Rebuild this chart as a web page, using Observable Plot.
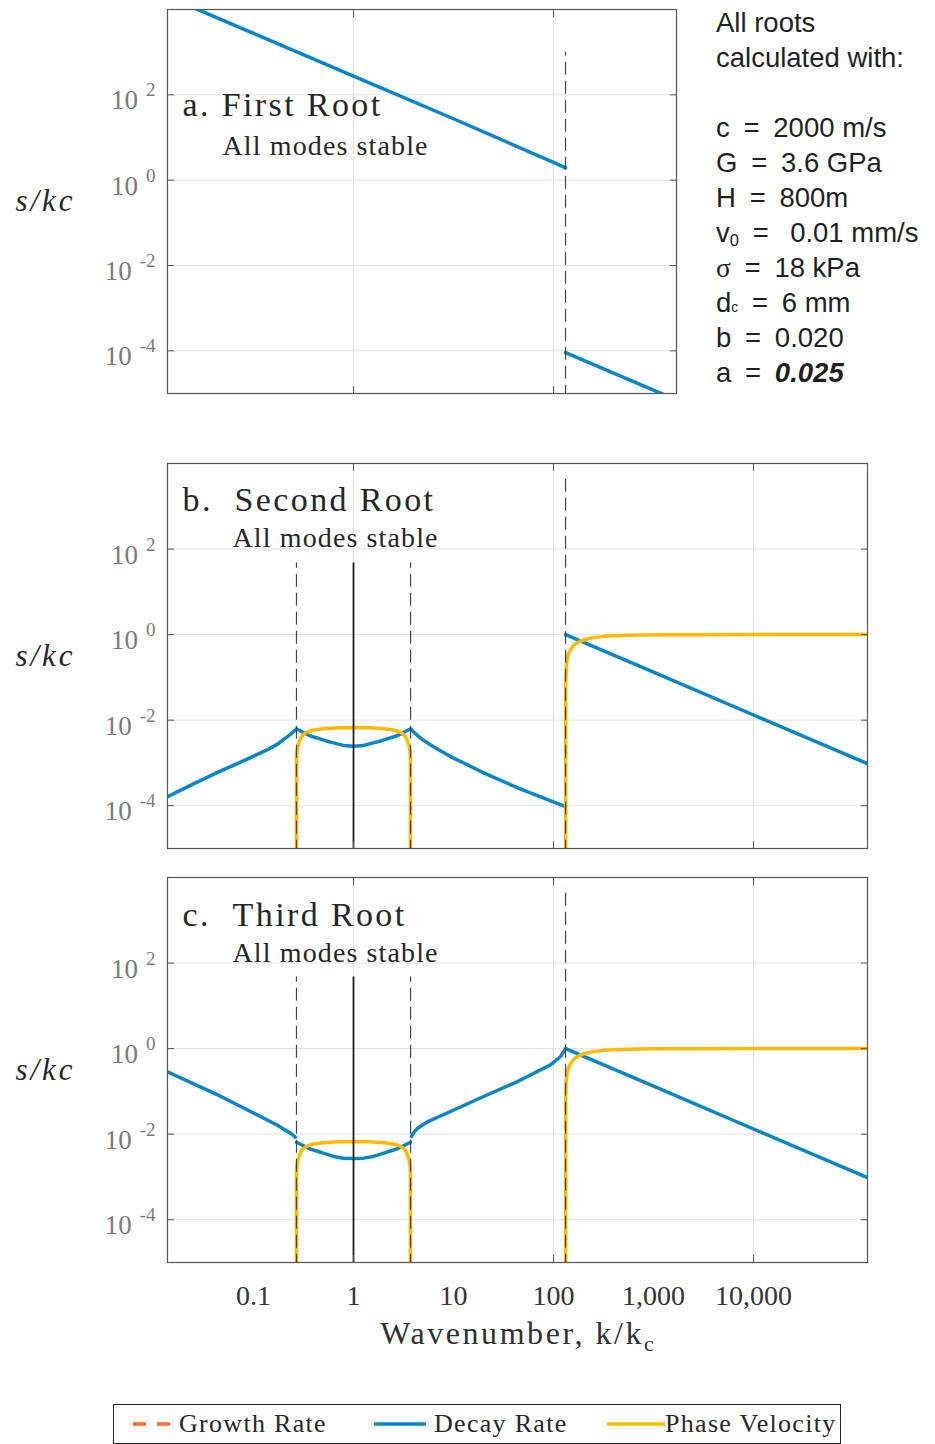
<!DOCTYPE html>
<html>
<head>
<meta charset="utf-8">
<script src="https://cdn.jsdelivr.net/npm/d3@7"></script>
<script src="https://cdn.jsdelivr.net/npm/@observablehq/plot@0.6"></script>
<style>
  html, body { margin: 0; padding: 0; background: #fff; }
  #page { position: relative; width: 935px; height: 1444px; overflow: hidden; font-family: "Liberation Serif", serif; color: #262626; }
  #params { position: absolute; left: 716px; top: 5px; font-family: "Liberation Sans", sans-serif; font-size: 27.5px; line-height: 35px; color: #1f1f1f; white-space: pre; }
  #params div { height: 35px; }
  #params .serif { font-family: "Liberation Serif", serif; }
  #params sub { font-size: 60%; line-height: 0; vertical-align: -0.25em; }
  #params sub.tiny { font-size: 50%; vertical-align: 0; }
  #params .em { font-weight: bold; font-style: italic; }
  #xlabel { position: absolute; left: 167px; width: 700px; top: 1317px; text-align: center; font-size: 32px; line-height: 32px; letter-spacing: 0.08em; color: #303030; }
  #xlabel sub { font-size: 68%; line-height: 0; vertical-align: -0.3em; letter-spacing: 0; }
  #legend { position: absolute; left: 113px; top: 1404px; width: 728px; height: 40px; box-sizing: border-box; border: 1.3px solid #262626; background: #fff; }
  #legend .item { position: absolute; top: 0; height: 38px; display: flex; align-items: center; font-size: 26px; letter-spacing: 0.05em; color: #262626; }
  #legend svg { display: block; margin-right: 8px; }
</style>
</head>
<body>
<div id="page">
  <div id="params"></div>
  <div id="xlabel">Wavenumber, k/k<sub>c</sub></div>
  <div id="legend"></div>
</div>
<script>
// ---------- scales ----------
const xMin = 0.0138;
const yDomain = [1e-5, 1e4];
const yTicks = [1e2, 1, 1e-2, 1e-4];
const xGridTicks = [1, 100, 10000];
const xLabelTicks = [0.1, 1, 10, 100, 1000, 10000];

// ---------- first root: decay rate s/kc against k/kc ----------
const firstDecayK = [0.0138, 0.1, 1, 10, 100, 132];
const firstDecayV = [20000, 2750, 275, 27.5, 2.6, 1.95];
const firstDecayHighK = [132, 1000, 1700];
const firstDecayHighV = [9.1e-5, 1.2e-5, 7.1e-6];

// ---------- second root ----------
const secondDecayK = [0.0138, 0.0251, 0.0437, 0.0794, 0.138, 0.174, 0.2, 0.229, 0.251, 0.269,
  0.316, 0.372, 0.437, 0.525, 0.631, 0.794, 1, 1.26, 1.58, 1.91, 2.29, 2.69, 3.16, 3.72,
  3.98, 4.37, 5.01, 6.31, 9.33, 20, 43.7, 132];
const secondDecayV = [1.62e-4, 3.24e-4, 6.03e-4, 1.12e-3, 2.04e-3, 2.75e-3, 3.55e-3, 4.47e-3, 5.37e-3, 6.31e-3,
  5.13e-3, 4.27e-3, 3.80e-3, 3.31e-3, 2.95e-3, 2.57e-3, 2.45e-3, 2.57e-3, 2.95e-3, 3.31e-3, 3.80e-3, 4.27e-3, 5.13e-3, 6.31e-3,
  5.37e-3, 4.37e-3, 3.39e-3, 2.40e-3, 1.41e-3, 5.89e-4, 2.63e-4, 9.5e-5];

// ---------- third root ----------
const thirdDecayLowK = [0.0138, 0.0437, 0.0933, 0.17, 0.234, 0.245, 0.262];
const thirdDecayLowV = [0.288, 0.0832, 0.0339, 0.0166, 0.0105, 9.8e-3, 8.5e-3];
const thirdDecayMidK = [0.269, 0.316, 0.372, 0.437, 0.525, 0.631, 0.794, 1, 1.26, 1.58, 1.91, 2.29, 2.69, 3.16, 3.72];
const thirdDecayMidV = [6.46e-3, 5.37e-3, 4.47e-3, 3.98e-3, 3.47e-3, 3.02e-3, 2.75e-3, 2.69e-3, 2.75e-3, 3.02e-3, 3.47e-3, 3.98e-3, 4.47e-3, 5.37e-3, 6.46e-3];
const thirdDecayRiseK = [3.80, 3.98, 4.37, 5.62, 9.33, 20, 43.7, 93.3, 117, 126, 132];
const thirdDecayRiseV = [8.9e-3, 0.0107, 0.0138, 0.0200, 0.0339, 0.0759, 0.170, 0.417, 0.646, 0.83, 1.0];

// ---------- shared by second and third roots ----------
const upperDecayK = [132, 1000, 10000, 138000];
const upperDecayV = [1.0, 0.132, 0.0132, 9.6e-4];
const phaseBandK = [0.2692, 0.2695, 0.2705, 0.273, 0.278, 0.285, 0.295, 0.31, 0.33, 0.36, 0.4, 0.5, 0.7, 1,
  1.43, 2, 2.5, 2.78, 3.03, 3.23, 3.39, 3.51, 3.60, 3.66, 3.697, 3.711, 3.715];
const phaseBandV = [1e-8, 1.12e-3, 1.58e-3, 2.0e-3, 2.51e-3, 3.02e-3, 3.72e-3, 4.47e-3, 5.01e-3, 5.5e-3, 5.89e-3, 6.31e-3, 6.61e-3, 6.76e-3,
  6.61e-3, 6.31e-3, 5.89e-3, 5.5e-3, 5.01e-3, 4.47e-3, 3.72e-3, 3.02e-3, 2.51e-3, 2.0e-3, 1.58e-3, 1.12e-3, 1e-8];
const phaseUpperK = [132.1, 132.3, 132.8, 133.5, 135, 138, 142, 148, 158, 170, 186, 210, 250, 320, 450, 700, 1200, 3000, 138000];
const phaseUpperV = [1e-8, 0.05, 0.1, 0.15, 0.21, 0.3, 0.37, 0.45, 0.55, 0.63, 0.71, 0.78, 0.85, 0.91, 0.956, 0.982, 0.994, 0.999, 1.0];

// ---------- reference wavenumbers ----------
const cutoffK = 132;
const bandEdgesK = [0.269, 3.72];
const centreK = 1;
const markerBottom = 1e-6;
const cutoffTop = [1e3, 6e3, 6e3];
const bandTop = 47;

// ---------- text ----------
const panelTitles = ["a. First Root", "b.\u00a0\u00a0Second Root", "c.\u00a0\u00a0Third Root"];
const panelNotes = ["All modes stable", "All modes stable", "All modes stable"];
const yLabel = "s/kc";
const legendLabels = ["Growth Rate", "Decay Rate", "Phase Velocity"];
const paramHeader = ["All roots", "calculated with:", ""];
const params = [
  {sym: "c", val: "2000 m/s"},
  {sym: "G", val: "3.6 GPa"},
  {sym: "H", val: "800m"},
  {sym: "v", sub: "0", val: " 0.01 mm/s"},
  {sym: "\u03c3", val: "18 kPa", serif: true},
  {sym: "d", sub: "c", tiny: true, val: "6 mm"},
  {sym: "b", val: "0.020"},
  {sym: "a", val: "0.025", bold: true}
];

// ---------- styling ----------
const BLUE = "#0a86c8";
const YELLOW = "#ffb900";
const ORANGE = "#ff6a2b";
const GRID = "#e2e2e2";
const FRAME = "#555555";

const rows = (ks, vs, seg) => ks.map((k, i) => ({k, v: vs[i], seg}));
const marker = (k, hi) => ({k, lo: markerBottom, hi});

const panelSpecs = [
  {top: 0, width: 700, height: 400, mt: 9, mb: 7, mr: 24, xMax: 1700,
   decay: [...rows(firstDecayK, firstDecayV, 0), ...rows(firstDecayHighK, firstDecayHighV, 1)],
   phase: [],
   dashed: [marker(cutoffK, cutoffTop[0])], solid: [],
   titleDy: 96, noteDx: 55, noteDy: 137, xLabels: false},
  {top: 455, width: 935, height: 400, mt: 8, mb: 7, mr: 68, xMax: 138000,
   decay: [...rows(secondDecayK, secondDecayV, 0), ...rows(upperDecayK, upperDecayV, 1)],
   phase: [...rows(phaseBandK, phaseBandV, 0), ...rows(phaseUpperK, phaseUpperV, 1)],
   dashed: [marker(bandEdgesK[0], bandTop), marker(bandEdgesK[1], bandTop), marker(cutoffK, cutoffTop[1])],
   solid: [marker(centreK, bandTop)],
   titleDy: 37, noteDx: 65, noteDy: 74.5, xLabels: false},
  {top: 870, width: 935, height: 440, mt: 7, mb: 48, mr: 68, xMax: 138000,
   decay: [...rows(thirdDecayLowK, thirdDecayLowV, 0), ...rows(thirdDecayMidK, thirdDecayMidV, 1),
           ...rows(thirdDecayRiseK, thirdDecayRiseV, 2), ...rows(upperDecayK, upperDecayV, 3)],
   phase: [...rows(phaseBandK, phaseBandV, 0), ...rows(phaseUpperK, phaseUpperV, 1)],
   dashed: [marker(bandEdgesK[0], bandTop), marker(bandEdgesK[1], bandTop), marker(cutoffK, cutoffTop[2])],
   solid: [marker(centreK, bandTop)],
   titleDy: 38, noteDx: 65, noteDy: 75.5, xLabels: true}
];

const page = document.getElementById("page");
const SVGNS = "http://www.w3.org/2000/svg";

panelSpecs.forEach((p, i) => {
  const xTicksHere = xGridTicks.filter(t => t >= xMin && t <= p.xMax);
  const blank = () => "";
  const marks = [
    Plot.gridY({ticks: yTicks, stroke: GRID, strokeOpacity: 1}),
    Plot.gridX({ticks: xTicksHere, stroke: GRID, strokeOpacity: 1}),
    Plot.line(p.decay, {x: "k", y: "v", z: "seg", stroke: BLUE, strokeWidth: 3.5, clip: true}),
    Plot.line(p.phase, {x: "k", y: "v", z: "seg", stroke: YELLOW, strokeWidth: 3.5, clip: true}),
    Plot.ruleX(p.dashed, {x: "k", y1: "lo", y2: "hi", stroke: "#444", strokeWidth: 1.2, strokeDasharray: "13,6", clip: true}),
    Plot.ruleX(p.solid, {x: "k", y1: "lo", y2: "hi", stroke: "#1e1e1e", strokeWidth: 1.8, clip: true}),
    Plot.frame({stroke: FRAME, strokeWidth: 1.2}),
    // inward ticks on all four sides
    Plot.axisY({anchor: "left", ticks: yTicks, tickSize: -7, stroke: FRAME, tickFormat: blank, label: null}),
    Plot.axisY({anchor: "right", ticks: yTicks, tickSize: -7, stroke: FRAME, tickFormat: blank, label: null}),
    Plot.axisX({anchor: "bottom", ticks: xTicksHere, tickSize: -7, stroke: FRAME, tickFormat: blank, label: null}),
    Plot.axisX({anchor: "top", ticks: xTicksHere, tickSize: -7, stroke: FRAME, tickFormat: blank, label: null}),
    // power-of-ten labels (exponent only; the base is added below)
    Plot.axisY({anchor: "left", ticks: yTicks, tickSize: 0, tickPadding: 12, dy: 6,
      tickFormat: d => String(Math.round(Math.log10(d))), fontSize: 27, fill: "#7a7a7a", label: null}),
    Plot.text([yLabel], {frameAnchor: "left", dx: -122, text: d => d, textAnchor: "middle",
      fontStyle: "italic", fontSize: 31, fill: "#262626"}),
    Plot.text([panelTitles[i]], {frameAnchor: "top-left", dx: 15, dy: p.titleDy, text: d => d,
      textAnchor: "start", lineAnchor: "middle", fontSize: 34, fill: "#262626"}),
    Plot.text([panelNotes[i]], {frameAnchor: "top-left", dx: p.noteDx, dy: p.noteDy, text: d => d,
      textAnchor: "start", lineAnchor: "middle", fontSize: 28, fill: "#262626"})
  ];
  if (p.xLabels) {
    marks.push(Plot.axisX({anchor: "bottom", ticks: xLabelTicks, tickSize: 0, tickPadding: 23,
      tickFormat: d3.format(","), fontSize: 28, fill: "#333", label: null}));
  }
  const svg = Plot.plot({
    width: p.width, height: p.height,
    marginTop: p.mt, marginBottom: p.mb, marginLeft: 167, marginRight: p.mr,
    x: {type: "log", domain: [xMin, p.xMax], axis: null, label: null},
    y: {type: "log", domain: yDomain, axis: null, label: null},
    style: {fontFamily: "Liberation Serif, serif", background: "transparent", overflow: "visible"},
    marks
  });
  // 10 with a raised exponent
  svg.querySelectorAll('g[aria-label="y-axis tick label"] text').forEach(t => {
    const e = t.textContent;
    if (!e) return;
    t.textContent = "10";
    const ts = document.createElementNS(SVGNS, "tspan");
    ts.setAttribute("dx", "8");
    ts.setAttribute("dy", "-13");
    ts.setAttribute("font-size", "19");
    ts.textContent = e;
    t.appendChild(ts);
  });
  // wider tracking for the serif annotations
  const spacing = {"34": "0.07em", "28": "0.04em", "31": "3px"};
  svg.querySelectorAll('g[aria-label="text"]').forEach(g => {
    const fs = g.getAttribute("font-size");
    if (spacing[fs]) g.setAttribute("letter-spacing", spacing[fs]);
  });
  svg.style.position = "absolute";
  svg.style.left = "0px";
  svg.style.top = p.top + "px";
  page.appendChild(svg);
});

// ---------- parameter block ----------
const paramsDiv = document.getElementById("params");
paramHeader.forEach(h => {
  const line = document.createElement("div");
  line.textContent = h;
  paramsDiv.appendChild(line);
});
params.forEach(q => {
  const line = document.createElement("div");
  const sym = document.createElement("span");
  sym.textContent = q.sym;
  if (q.serif) sym.className = "serif";
  line.appendChild(sym);
  if (q.sub) {
    const s = document.createElement("sub");
    s.textContent = q.sub;
    if (q.tiny) s.className = "tiny";
    line.appendChild(s);
  }
  line.appendChild(document.createTextNode("\u2002=\u2002"));
  const val = document.createElement("span");
  val.textContent = q.val;
  if (q.bold) val.className = "em";
  line.appendChild(val);
  paramsDiv.appendChild(line);
});

// ---------- legend ----------
const legend = document.getElementById("legend");
const legendColors = [ORANGE, BLUE, YELLOW];
const legendDash = ["13,11", null, null];
const legendLeft = [19, 260, 493];
const legendSwatch = [38, 52, 58];
legendLabels.forEach((label, i) => {
  const item = document.createElement("div");
  item.className = "item";
  item.style.left = legendLeft[i] + "px";
  const sw = document.createElementNS(SVGNS, "svg");
  sw.setAttribute("width", legendSwatch[i]);
  sw.setAttribute("height", 10);
  const ln = document.createElementNS(SVGNS, "line");
  ln.setAttribute("x1", 0); ln.setAttribute("x2", legendSwatch[i]);
  ln.setAttribute("y1", 5); ln.setAttribute("y2", 5);
  ln.setAttribute("stroke", legendColors[i]);
  ln.setAttribute("stroke-width", 3.5);
  if (legendDash[i]) ln.setAttribute("stroke-dasharray", legendDash[i]);
  sw.appendChild(ln);
  item.appendChild(sw);
  const tx = document.createElement("span");
  tx.textContent = label;
  if (i === 2) sw.style.marginRight = "0px";
  item.appendChild(tx);
  legend.appendChild(item);
});
</script>
</body>
</html>
